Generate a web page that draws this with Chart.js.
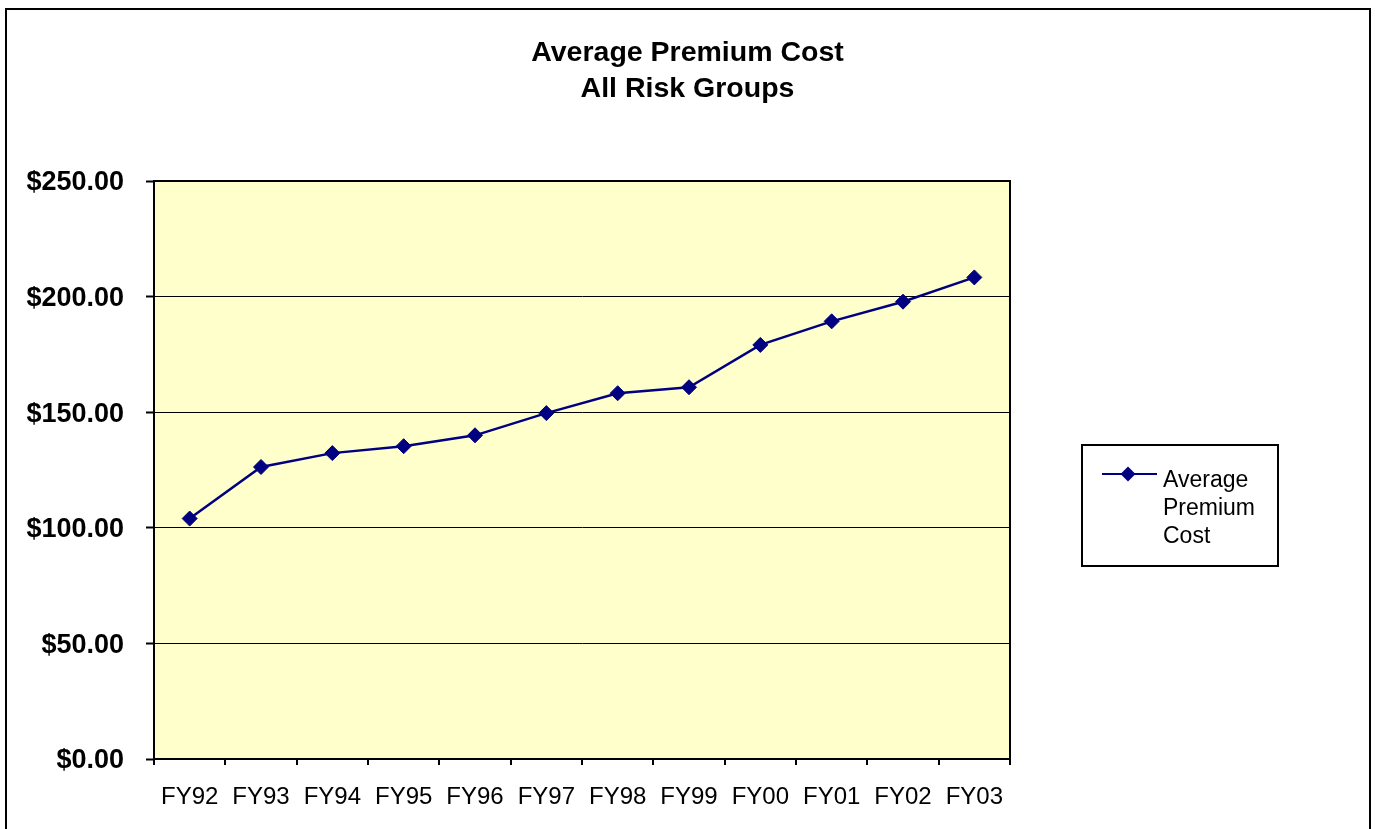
<!DOCTYPE html>
<html>
<head>
<meta charset="utf-8">
<title>Average Premium Cost</title>
<script src="https://cdn.jsdelivr.net/npm/chart.js@4.4.1/dist/chart.umd.min.js"></script>
<style>
  html, body { margin: 0; padding: 0; background: #ffffff; }
  #wrap { width: 1375px; height: 829px; }
</style>
</head>
<body>
<div id="wrap"><canvas id="chart" width="1375" height="829"></canvas></div>
<script>
// Fiscal years on the category axis
const fiscalYears = ['FY92', 'FY93', 'FY94', 'FY95', 'FY96', 'FY97', 'FY98', 'FY99', 'FY00', 'FY01', 'FY02', 'FY03'];

// Average premium cost per fiscal year (dollars)
const averagePremiumCost = [104.0, 126.3, 132.3, 135.3, 140.0, 149.6, 158.2, 160.8, 179.1, 189.3, 197.8, 208.3];

// Series name and chart heading
const seriesName = 'Average Premium Cost';
const titleLines = ['Average Premium Cost', 'All Risk Groups'];

// Value axis range
const valueMin = 0;
const valueMax = 250;
const valueStep = 50;

const FONT = '"Liberation Sans", Arial, Helvetica, sans-serif';
const LINE_COLOR = '#000080';

// Page frame, plot background and plot border
const framePlugin = {
  id: 'frame',
  beforeDraw(chart) {
    const { ctx, chartArea: a } = chart;
    ctx.save();
    ctx.fillStyle = '#ffffff';
    ctx.fillRect(0, 0, chart.width, chart.height);
    ctx.fillStyle = '#FFFFCC';
    ctx.fillRect(a.left, a.top, a.right - a.left, a.bottom - a.top);
    ctx.restore();
  },
  beforeDatasetsDraw(chart) {
    const { ctx, chartArea: a } = chart;
    ctx.save();
    ctx.strokeStyle = '#000000';
    ctx.lineWidth = 2;
    ctx.beginPath();
    ctx.moveTo(a.left, a.top);
    ctx.lineTo(a.right, a.top);
    ctx.lineTo(a.right, a.bottom);
    ctx.stroke();
    ctx.restore();
  },
  afterDraw(chart) {
    const { ctx } = chart;
    ctx.save();
    ctx.strokeStyle = '#000000';
    ctx.lineWidth = 2;
    ctx.beginPath();
    ctx.moveTo(6, chart.height + 2);
    ctx.lineTo(6, 9);
    ctx.lineTo(1370, 9);
    ctx.lineTo(1370, chart.height + 2);
    ctx.stroke();
    ctx.restore();
  }
};

// Two-line heading centred on the full page width
const headingPlugin = {
  id: 'heading',
  afterDraw(chart, args, opts) {
    const { ctx } = chart;
    ctx.save();
    ctx.fillStyle = '#000000';
    ctx.font = 'bold ' + opts.size + 'px ' + FONT;
    ctx.textAlign = 'center';
    ctx.textBaseline = 'middle';
    opts.lines.forEach((line, i) => {
      ctx.fillText(line, chart.width / 2, opts.top + i * opts.lineHeight);
    });
    ctx.restore();
  }
};

// Boxed legend with the series name wrapped over several lines
const boxLegendPlugin = {
  id: 'boxLegend',
  afterDraw(chart, args, opts) {
    const { ctx } = chart;
    const ds = chart.data.datasets[0];
    const words = ds.label.split(' ');
    ctx.save();
    ctx.fillStyle = '#ffffff';
    ctx.fillRect(opts.x, opts.y, opts.w, opts.h);
    ctx.strokeStyle = '#000000';
    ctx.lineWidth = 2;
    ctx.strokeRect(opts.x, opts.y, opts.w, opts.h);

    const sy = opts.y + 29;
    ctx.strokeStyle = ds.borderColor;
    ctx.lineWidth = 2;
    ctx.beginPath();
    ctx.moveTo(opts.x + 20, sy);
    ctx.lineTo(opts.x + 75, sy);
    ctx.stroke();
    const cx = opts.x + 46;
    const r = 7.5;
    ctx.fillStyle = ds.pointBackgroundColor;
    ctx.beginPath();
    ctx.moveTo(cx, sy - r);
    ctx.lineTo(cx + r, sy);
    ctx.lineTo(cx, sy + r);
    ctx.lineTo(cx - r, sy);
    ctx.closePath();
    ctx.fill();

    ctx.fillStyle = '#000000';
    ctx.font = opts.size + 'px ' + FONT;
    ctx.textAlign = 'left';
    ctx.textBaseline = 'middle';
    words.forEach((w, i) => {
      ctx.fillText(w, opts.x + 81, opts.y + 36 + i * 28);
    });
    ctx.restore();
  }
};

new Chart(document.getElementById('chart'), {
  type: 'line',
  data: {
    labels: fiscalYears,
    datasets: [{
      label: seriesName,
      data: averagePremiumCost,
      borderColor: LINE_COLOR,
      backgroundColor: LINE_COLOR,
      borderWidth: 2.5,
      tension: 0,
      fill: false,
      pointStyle: 'rectRot',
      pointRadius: 7.5,
      pointHoverRadius: 7.5,
      pointBorderWidth: 1,
      pointBackgroundColor: LINE_COLOR,
      pointBorderColor: LINE_COLOR
    }]
  },
  options: {
    responsive: false,
    animation: false,
    events: [],
    layout: { padding: { top: 181, right: 365, bottom: 0, left: 0 } },
    plugins: {
      legend: { display: false },
      title: { display: false },
      tooltip: { enabled: false },
      heading: { lines: titleLines, size: 28.5, top: 53, lineHeight: 36 },
      boxLegend: { x: 1082, y: 445, w: 196, h: 121, size: 23 }
    },
    scales: {
      x: {
        offset: true,
        grid: {
          offset: true,
          drawOnChartArea: false,
          drawTicks: true,
          tickLength: 6,
          color: '#000000',
          lineWidth: 2
        },
        border: { display: true, color: '#000000', width: 2 },
        ticks: {
          color: '#000000',
          font: { family: FONT, size: 24 },
          padding: 18,
          maxRotation: 0,
          autoSkip: false
        },
        afterFit(scale) { scale.height = 70; }
      },
      y: {
        min: valueMin,
        max: valueMax,
        grid: {
          color: '#000000',
          lineWidth: 1,
          drawTicks: true,
          tickLength: 8,
          tickColor: '#000000',
          tickWidth: 2
        },
        border: { display: true, color: '#000000', width: 2 },
        ticks: {
          stepSize: valueStep,
          color: '#000000',
          font: { family: FONT, size: 27, weight: 'bold' },
          padding: 22,
          labelOffset: 2,
          callback: (v) => '$' + Number(v).toFixed(2)
        },
        afterFit(scale) { scale.width = 154; }
      }
    }
  },
  plugins: [framePlugin, headingPlugin, boxLegendPlugin]
});
</script>
</body>
</html>
